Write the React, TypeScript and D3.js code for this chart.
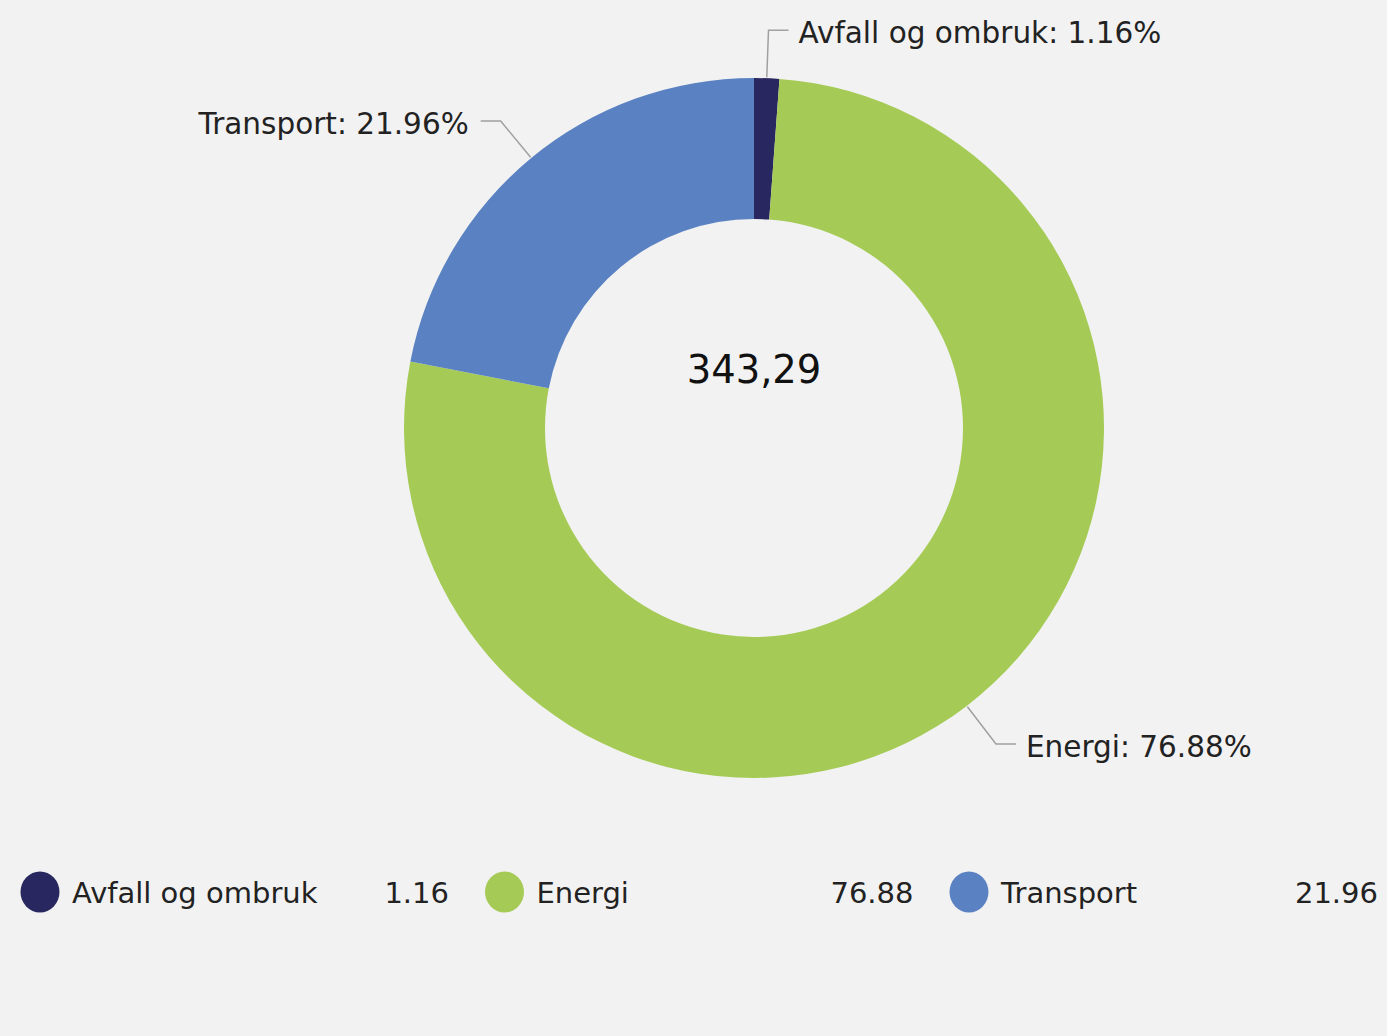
import React from "react";
import * as d3 from "d3";

const categories = ["Avfall og ombruk", "Energi", "Transport"];
const values = [3.98, 263.92, 75.39];
const colors = ["#28275f", "#a5cb56", "#5a82c2"];
const totalLabel = "343,29";

const W = 1387;
const H = 1036;
const FONT = "'DejaVu Sans', Verdana, sans-serif";

export default function App() {
  const cx = 754;
  const cy = 428;
  const rOuter = 350;
  const rInner = 209;
  const total = d3.sum(values);
  const pcts = values.map((v) => (v / total) * 100);

  const pie = d3.pie<number>().sort(null).value((d) => d)(values);
  const arc = d3.arc<d3.PieArcDatum<number>>().innerRadius(rInner).outerRadius(rOuter);

  const legendX = d3
    .scaleBand<number>()
    .domain(d3.range(categories.length))
    .range([20, 20 + 3 * 464.5]);

  return (
    <svg
      width={W}
      height={H}
      style={{ position: "absolute", left: 0, top: 0, background: "#f2f2f2" }}
      fontFamily={FONT}
    >
      <rect x={0} y={0} width={W} height={H} fill="#f2f2f2" />
      <g transform={`translate(${cx},${cy})`}>
        {pie.map((p, i) => (
          <path key={i} d={arc(p) || ""} fill={colors[i]} />
        ))}
        {pie.map((p, i) => {
          const mid = (p.startAngle + p.endAngle) / 2;
          const sx = Math.sin(mid);
          const sy = -Math.cos(mid);
          const x0 = sx * (rOuter + 1);
          const y0 = sy * (rOuter + 1);
          const x1 = sx * (rOuter + 48);
          const y1 = sy * (rOuter + 48);
          const right = sx >= 0;
          const x2 = x1 + (right ? 20 : -20);
          const tx = x2 + (right ? 10 : -12);
          return (
            <g key={"l" + i}>
              <polyline
                points={`${x0},${y0} ${x1},${y1} ${x2},${y1}`}
                fill="none"
                stroke="#a0a0a0"
                strokeWidth={1.5}
              />
              <text
                x={tx}
                y={y1 + 13}
                fontSize={29.5}
                fill="#222"
                textAnchor={right ? "start" : "end"}
              >
                {`${categories[i]}: ${pcts[i].toFixed(2)}%`}
              </text>
            </g>
          );
        })}
        <text x={0} y={-45} fontSize={38.5} fill="#111" textAnchor="middle">
          {totalLabel}
        </text>
      </g>
      <g>
        {categories.map((c, i) => {
          const x = legendX(i)!;
          return (
            <g key={"lg" + i}>
              <ellipse cx={x + 20} cy={892} rx={19.5} ry={20.5} fill={colors[i]} />
              <text x={x + 52} y={903} fontSize={29} fill="#222">
                {c}
              </text>
              <text x={x + 429} y={903} fontSize={29} fill="#222" textAnchor="end">
                {pcts[i].toFixed(2)}
              </text>
            </g>
          );
        })}
      </g>
    </svg>
  );
}
